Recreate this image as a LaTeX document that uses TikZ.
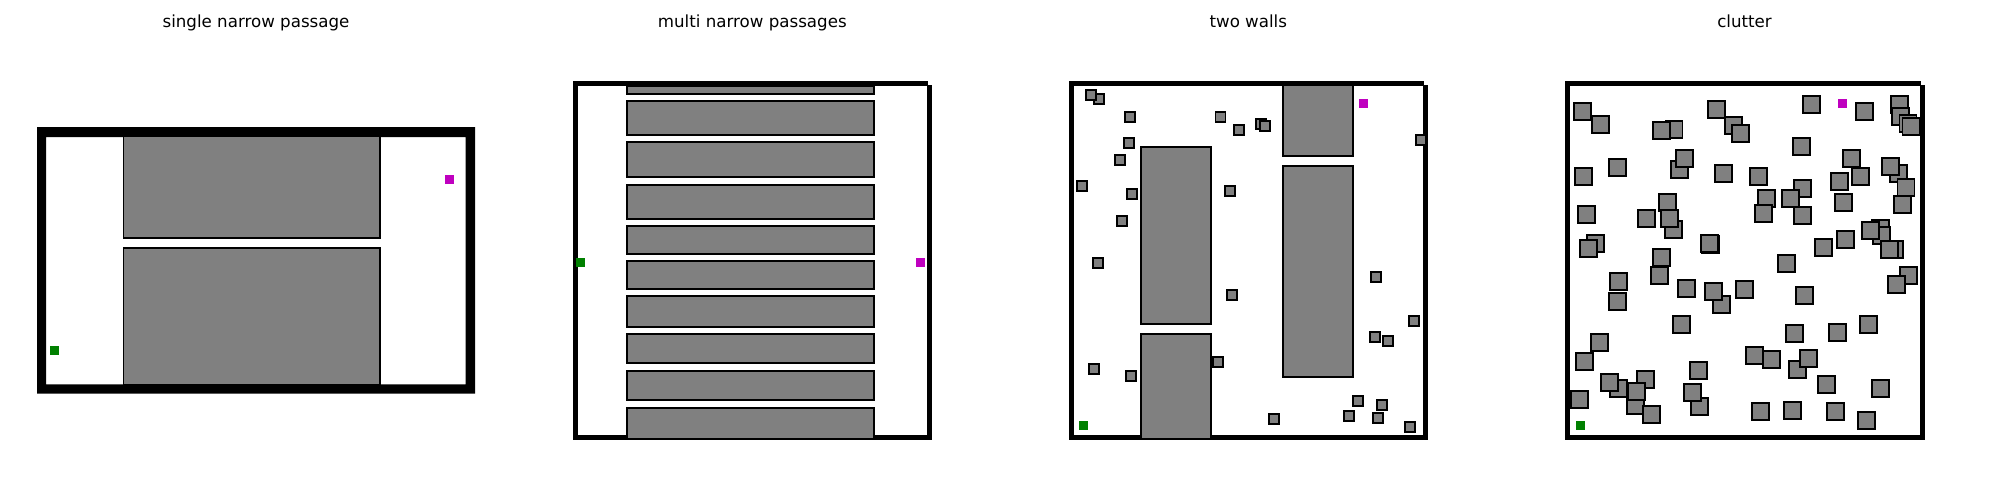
\documentclass[tikz,border=0pt]{standalone}
\usepackage{fontspec}
\setmainfont{DejaVu Sans}
\definecolor{obstgray}{RGB}{128,128,128}
\definecolor{startgreen}{RGB}{0,128,0}
\definecolor{goalmagenta}{RGB}{191,0,191}

\begin{document}
\begin{tikzpicture}[x=0.72pt,y=-0.72pt,
    wall/.style={fill=black},
    obstacle/.style={fill=obstgray,draw=black,line width=1pt},
    startbox/.style={fill=startgreen},
    goalbox/.style={fill=goalmagenta},
    paneltitle/.style={anchor=base,inner sep=0pt,font=\fontsize{12}{14}\selectfont}]
\useasboundingbox[fill=white] (0,0) rectangle (2000,500);

% titles
\node[paneltitle] (single) at (256,27) {single narrow passage};
\node[paneltitle] (multi) at (752.3,27) {multi narrow passages};
\node[paneltitle] (twowalls) at (1248.3,27) {two walls};
\node[paneltitle] (clutter) at (1744.5,27) {clutter};

% single narrow passage
\fill[wall,even odd rule] (37,127) rectangle (475,393.7) (46,137) rectangle (465.7,384.3);
\draw[obstacle] (123.8,136.5) rectangle (379.8,237.8);
\draw[obstacle] (123.8,247.8) rectangle (379.8,384.5);
\fill[startbox] (50,346) rectangle ++(9,9);
\fill[goalbox] (445,175) rectangle ++(9,9);

% outer walls of the square maps
\foreach \l/\r in {573/927.7, 1069/1423.7, 1565/1920.7}{
  \fill[wall] (\l,81) rectangle (\l+5,440);
  \fill[wall] (\l,81) rectangle (\r,86);
  \fill[wall] (\r-1,85) rectangle (\r+4,440);
  \fill[wall] (\l,435) rectangle (\r+4,440);
}

% multi narrow passages
\foreach \ya/\yb in {86.5/93.8, 100.8/134.8, 141.8/176.8, 184.8/218.8, 225.8/253.8,
    260.8/288.8, 295.8/326.8, 333.8/362.8, 370.8/399.8, 407.8/438.8}
  \draw[obstacle] (626.8,\ya) rectangle (873.8,\yb);
\fill[startbox] (576,258) rectangle ++(9,9);
\fill[goalbox] (915.7,258) rectangle ++(9,9);

% two walls
\draw[obstacle] (1140.8,146.8) rectangle (1210.8,323.8);
\draw[obstacle] (1140.8,333.8) rectangle (1210.8,438.8);
\draw[obstacle] (1282.8,85.5) rectangle (1352.8,155.8);
\draw[obstacle] (1282.8,165.8) rectangle (1352.8,376.8);
\foreach \x/\y in {1093.8/93.8, 1085.8/89.8, 1124.8/111.8, 1215.5/111.8, 1233.8/124.8,
    1255.8/118.8, 1259.8/120.8, 1123.8/137.8, 1114.8/154.8, 1076.8/180.8,
    1126.8/188.8, 1224.8/185.8, 1116.8/215.8, 1092.8/257.8, 1226.8/289.8,
    1415.8/134.8, 1370.8/271.8, 1408.8/315.8, 1369.8/331.8, 1382.8/335.8,
    1212.8/356.8, 1088.8/363.8, 1125.8/370.8, 1352.8/395.8, 1376.8/399.8,
    1268.8/413.8, 1343.8/410.8, 1372.8/412.8, 1404.8/421.8}
  \draw[obstacle] (\x,\y) rectangle ++(10,10);
\fill[startbox] (1079.3,421.3) rectangle ++(9,9);
\fill[goalbox] (1359,99) rectangle ++(9,9);

% clutter
\foreach \x/\y in {1573.8/102.8, 1591.8/115.8, 1665.2/120.8, 1652.8/121.8, 1707.8/100.8,
    1724.8/116.8, 1731.8/124.8, 1802.8/95.8, 1855.8/102.8, 1890.8/95.8,
    1891.8/107.8, 1899.2/114.8, 1902.2/117.8, 1792.8/137.8, 1842.8/149.8,
    1851.8/167.8, 1830.8/172.8, 1889.8/164.8, 1881.8/157.8, 1897.2/178.8,
    1893.8/195.8, 1834.8/193.8, 1793.8/179.8, 1781.8/189.8, 1793.8/206.8,
    1757.8/189.8, 1754.8/204.8, 1749.8/167.8, 1714.8/164.8, 1670.8/160.8,
    1675.8/149.8, 1608.8/158.8, 1574.8/167.8, 1577.8/205.8, 1586.8/234.8,
    1579.8/239.8, 1637.8/209.8, 1658.8/193.8, 1664.8/220.8, 1660.8/209.8,
    1701.8/235.8, 1700.8/234.8, 1652.8/248.8, 1650.8/266.8, 1609.8/272.8,
    1608.8/292.8, 1677.8/279.8, 1712.8/295.8, 1704.8/282.8, 1735.8/280.8,
    1777.8/254.8, 1814.8/238.8, 1836.8/230.8, 1871.8/219.8, 1872.8/226.8,
    1861.8/221.8, 1885.8/240.8, 1880.8/240.8, 1899.8/266.8, 1887.8/275.8,
    1795.8/286.8, 1672.8/315.8, 1785.8/324.8, 1828.8/323.8, 1859.8/315.8,
    1590.8/333.8, 1575.8/352.8, 1745.8/346.8, 1762.8/350.8, 1788.8/360.8,
    1799.8/349.8, 1689.8/361.8, 1817.8/375.8, 1871.8/379.8, 1609.8/379.8,
    1600.8/373.8, 1636.8/370.8, 1626.8/396.8, 1627.8/382.8, 1642.8/405.8,
    1570.8/390.8, 1690.8/397.8, 1683.8/383.8, 1751.8/402.8, 1783.8/401.8,
    1826.8/402.8, 1857.8/411.8}
  \draw[obstacle] (\x,\y) rectangle ++(17.3,17.3);
\fill[startbox] (1576.3,421.3) rectangle ++(9,9);
\fill[goalbox] (1838,99) rectangle ++(9,9);
\end{tikzpicture}
\end{document}
